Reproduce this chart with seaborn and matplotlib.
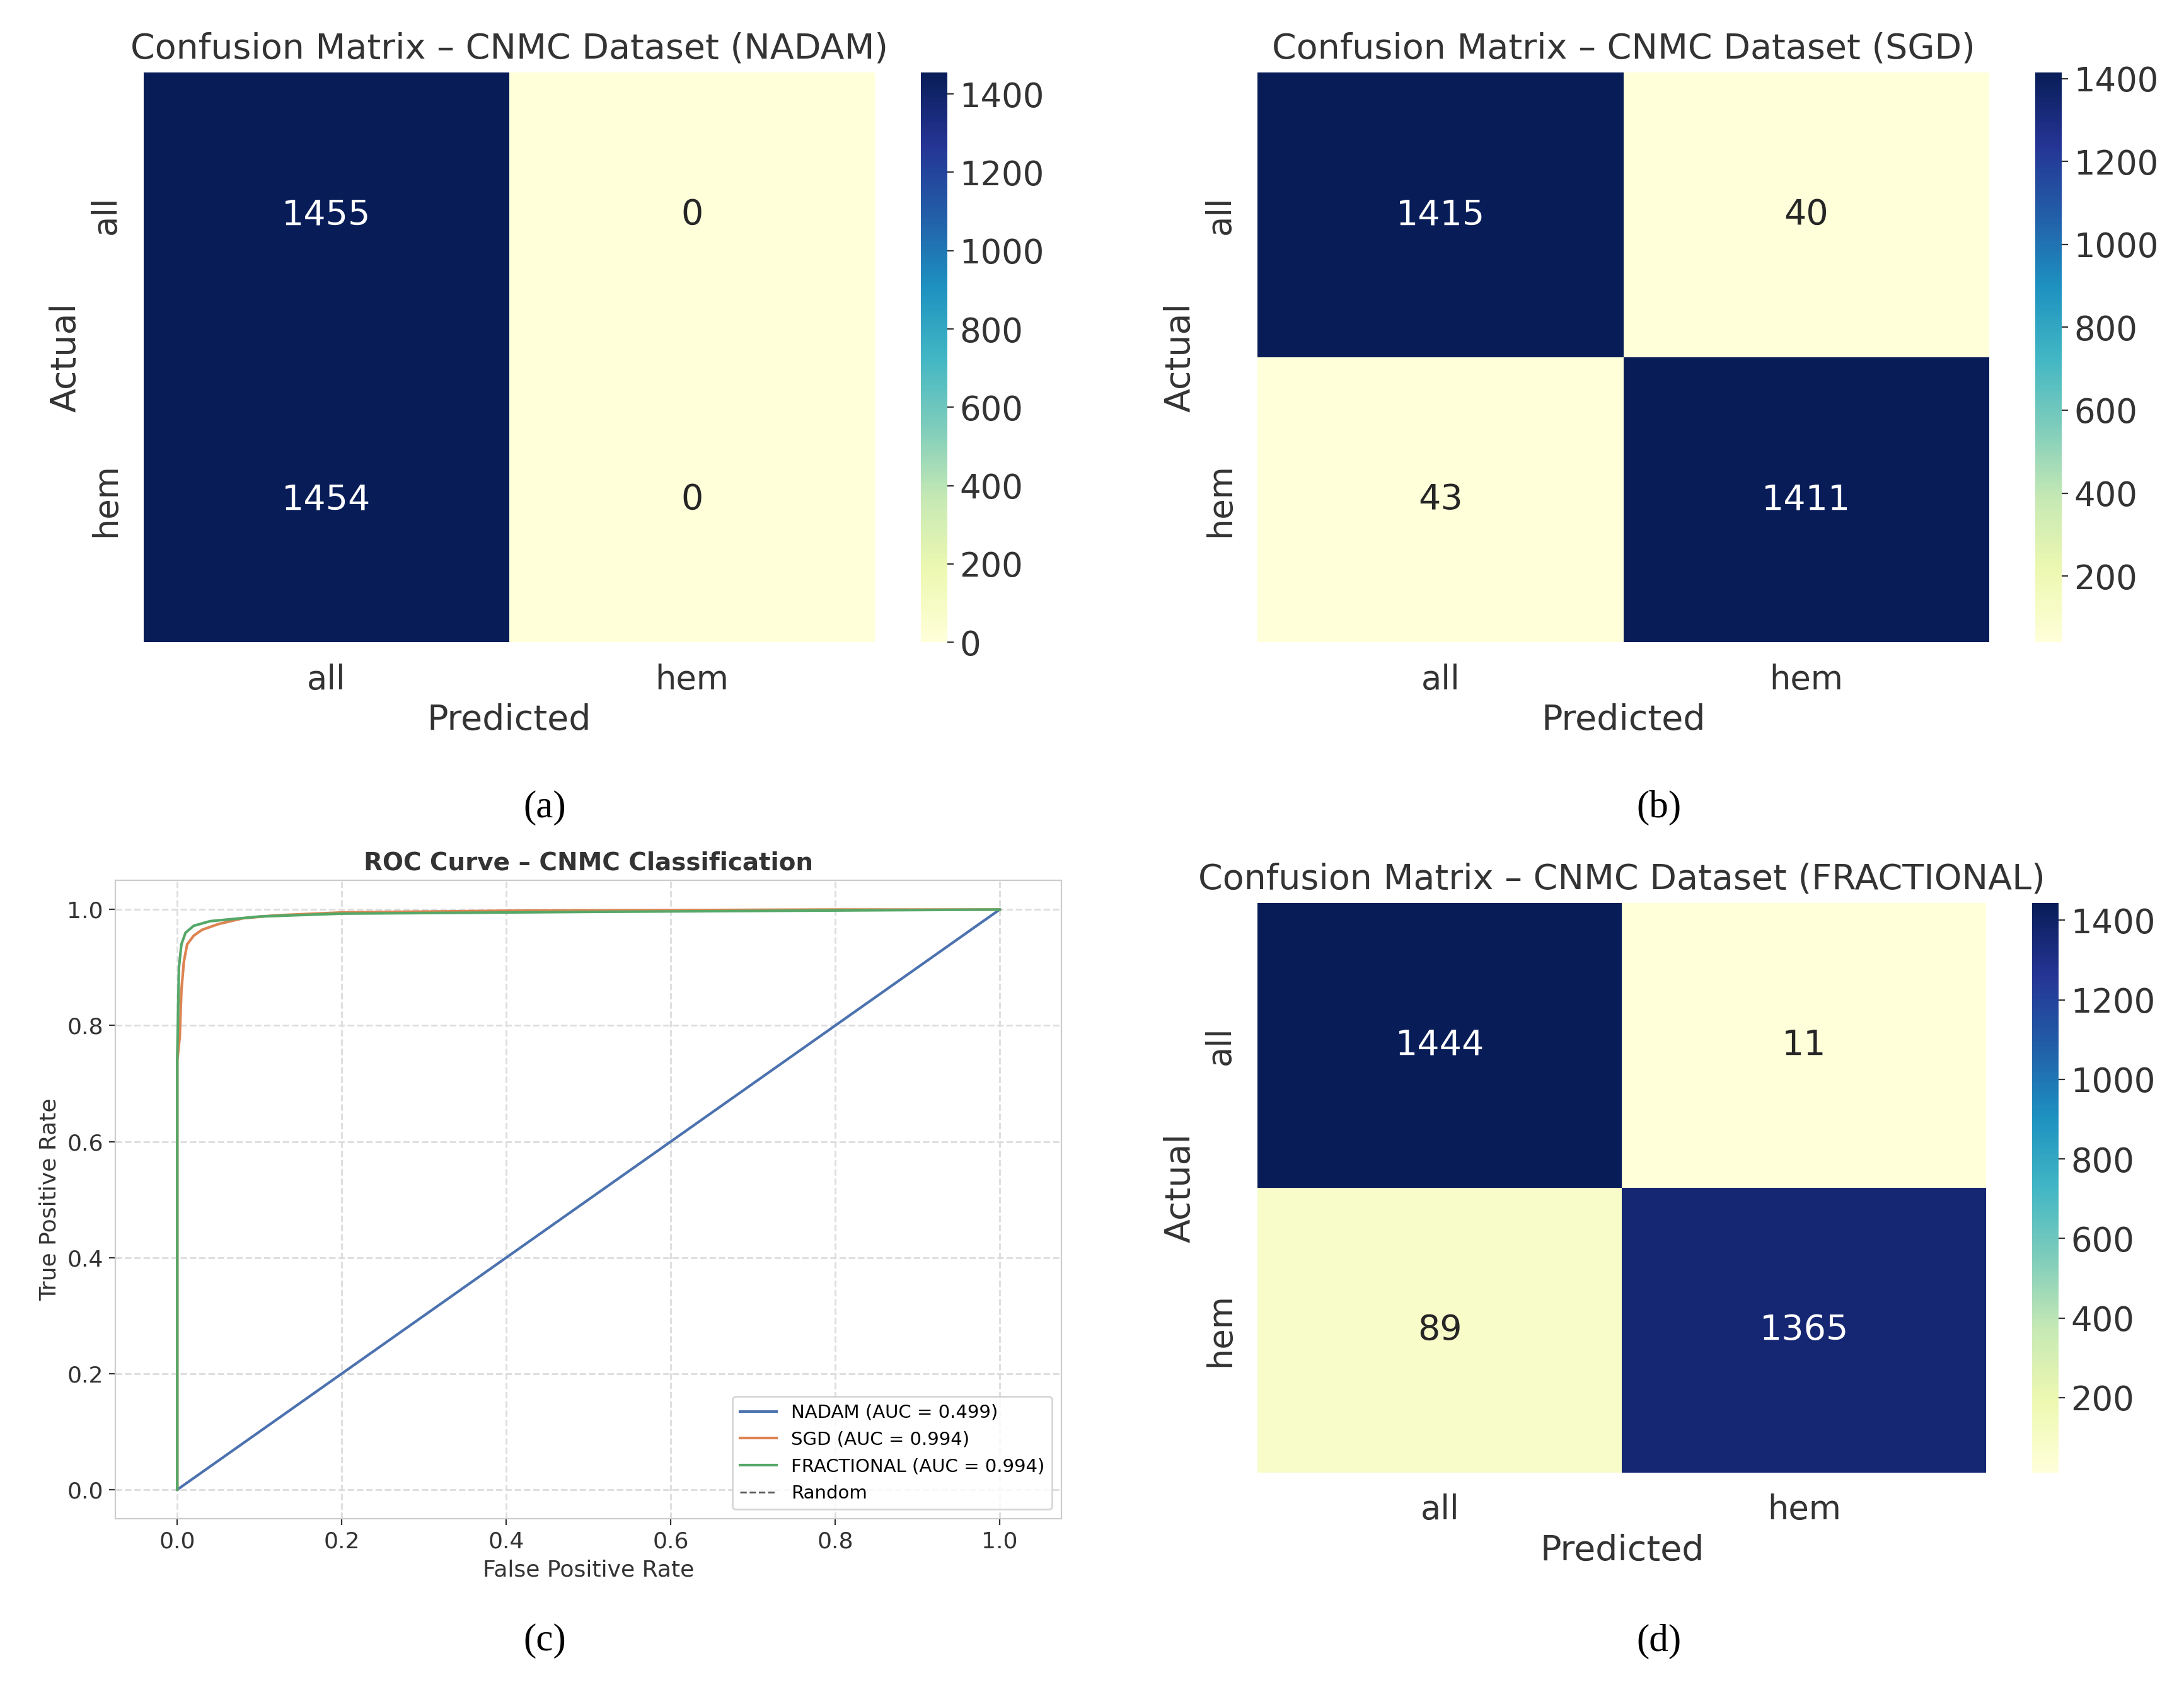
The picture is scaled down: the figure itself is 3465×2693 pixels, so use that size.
import matplotlib
matplotlib.use("Agg")
import matplotlib.pyplot as plt
import seaborn as sns
import numpy as np
import pandas as pd

classes = ["all", "hem"]
cm_nadam = [[1455, 0], [1454, 0]]
cm_sgd = [[1415, 40], [43, 1411]]
cm_frac = [[1444, 11], [89, 1365]]

sgd_fpr = [0, 0, 0.003, 0.005, 0.008, 0.012, 0.02, 0.03, 0.05, 0.08, 0.12, 0.2, 0.4, 0.8, 1.0]
sgd_tpr = [0, 0.74, 0.78, 0.86, 0.91, 0.94, 0.955, 0.965, 0.975, 0.985, 0.99, 0.995, 0.998, 1.0, 1.0]
frac_fpr = [0, 0, 0.002, 0.005, 0.01, 0.02, 0.04, 0.1, 0.2, 0.5, 1.0]
frac_tpr = [0, 0.75, 0.9, 0.94, 0.96, 0.972, 0.98, 0.988, 0.993, 0.996, 1.0]
nadam_fpr = [0, 1.0]
nadam_tpr = [0, 1.0]

W, H = 1568, 1218
fig = plt.figure(figsize=(17.325, 13.465), dpi=200)
def ax_at(x0, y0, x1, y1):
    return fig.add_axes([x0 / W, 1 - y1 / H, (x1 - x0) / W, (y1 - y0) / H])

txt = "#333333"
def cm_panel(cm, box, cbox, title, ticks):
    ax = ax_at(*box); cax = ax_at(*cbox)
    df = pd.DataFrame(cm, index=classes, columns=classes)
    sns.heatmap(df, annot=True, fmt="d", cmap="YlGnBu", ax=ax, cbar_ax=cax,
                annot_kws={"fontsize": 20})
    ax.set_title(title, fontsize=20, color=txt, pad=8)
    ax.set_xlabel("Predicted", fontsize=20, color=txt)
    ax.set_ylabel("Actual", fontsize=20, color=txt)
    ax.tick_params(labelsize=19, colors=txt, length=0, pad=12)
    cax.set_yticks(ticks)
    cax.tick_params(labelsize=19, colors=txt)
    cax.outline.set_visible(False) if hasattr(cax, "outline") else None
    for s in cax.spines.values():
        s.set_visible(False)

cm_panel(cm_nadam, (103, 52, 628, 461), (661, 52, 680, 461),
         "Confusion Matrix – CNMC Dataset (NADAM)", [0, 200, 400, 600, 800, 1000, 1200, 1400])
cm_panel(cm_sgd, (903, 52, 1428, 461), (1461, 52, 1480, 461),
         "Confusion Matrix – CNMC Dataset (SGD)", [200, 400, 600, 800, 1000, 1200, 1400])
cm_panel(cm_frac, (903, 648, 1426, 1057), (1459, 648, 1478, 1057),
         "Confusion Matrix – CNMC Dataset (FRACTIONAL)", [200, 400, 600, 800, 1000, 1200, 1400])

ax = ax_at(83, 632, 762, 1090)
pal = sns.color_palette("deep")
sns.lineplot(x=nadam_fpr, y=nadam_tpr, ax=ax, color=pal[0], label="NADAM (AUC = 0.499)", lw=1.5)
sns.lineplot(x=sgd_fpr, y=sgd_tpr, ax=ax, color=pal[1], label="SGD (AUC = 0.994)", lw=1.5, estimator=None, sort=False)
sns.lineplot(x=frac_fpr, y=frac_tpr, ax=ax, color=pal[2], label="FRACTIONAL (AUC = 0.994)", lw=1.5, estimator=None, sort=False)
ax.plot([0, 1], [0, 1], "--", color="#555555", lw=1, label="Random", zorder=0)
ax.set_xlim(-0.075, 1.075); ax.set_ylim(-0.05, 1.05)
ax.set_xticks(np.arange(0, 1.01, 0.2)); ax.set_yticks(np.arange(0, 1.01, 0.2))
ax.grid(True, ls="--", color="#dddddd", lw=1)
ax.set_title("ROC Curve – CNMC Classification", fontsize=14, fontweight="bold", color=txt)
ax.set_xlabel("False Positive Rate", fontsize=13, color=txt)
ax.set_ylabel("True Positive Rate", fontsize=13, color=txt)
ax.tick_params(labelsize=13, colors=txt)
for s in ax.spines.values():
    s.set_color("#cccccc")
ax.legend(loc="lower right", fontsize=10.5, frameon=True)

for lbl, x, y in [("(a)", 391, 580), ("(b)", 1191, 580), ("(c)", 391, 1178), ("(d)", 1191, 1178)]:
    fig.text(x / W, 1 - y / H, lbl, ha="center", va="center", fontsize=22, family="Liberation Serif")
fig.text(391 / W, 1 - 580 / H, "", fontsize=1)

fig.savefig("out.png", dpi=200, facecolor="white")
